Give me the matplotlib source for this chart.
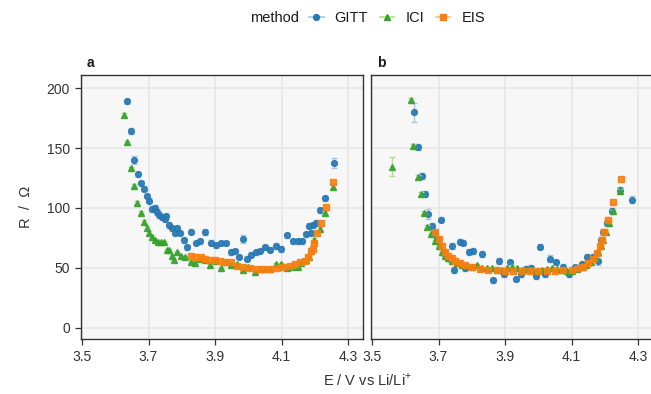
import matplotlib.pyplot as plt
from matplotlib.lines import Line2D

plt.rcParams['font.family'] = ['Liberation Sans', 'DejaVu Sans']
plt.rcParams['font.size'] = 10
plt.rcParams['mathtext.fontset'] = 'custom'
plt.rcParams['mathtext.rm'] = 'Liberation Sans'

# ---- panel a ----
a_gitt_v = [3.636, 3.646, 3.657, 3.667, 3.677, 3.686, 3.695, 3.702, 3.711, 3.720,
            3.726, 3.733, 3.740, 3.750, 3.753, 3.762, 3.770, 3.780, 3.786, 3.796,
            3.806, 3.816, 3.829, 3.842, 3.855, 3.870, 3.887, 3.902, 3.918, 3.932,
            3.947, 3.960, 3.972, 3.985, 3.997, 4.008, 4.022, 4.035, 4.049, 4.065,
            4.083, 4.098, 4.117, 4.134, 4.150, 4.163, 4.173, 4.182, 4.190, 4.195,
            4.204, 4.216, 4.232, 4.258]
a_gitt_r = [189, 164, 140, 128, 120.6, 116, 110, 106, 99, 100,
            96.4, 94, 92, 91, 93, 86, 83, 79, 83, 79,
            73, 67, 80, 70.6, 72, 80, 71, 68.6, 70.6, 70.6,
            63, 64, 59, 74, 57.5, 61, 63, 64, 67, 65,
            68, 66, 77, 72, 72, 72, 78, 85, 79, 86,
            87, 98, 108, 137.5]
a_gitt_e = [2, 2.5, 3.5, 2, 2, 2, 2, 2, 2.5, 2.5,
            2.5, 2.5, 2.5, 2.5, 2, 2.5, 2, 2, 2, 2,
            2, 2, 2, 2, 2, 2.5, 2, 2, 2, 2,
            2, 2, 2, 3.5, 2, 2, 2, 2, 2, 2,
            2.5, 2.5, 2, 2, 2, 2, 2, 2, 2, 2.5,
            2.5, 2, 2, 4.5]

a_ici_v = [3.626, 3.636, 3.646, 3.656, 3.666, 3.677, 3.686, 3.695, 3.702, 3.710,
           3.719, 3.728, 3.737, 3.746, 3.755, 3.762, 3.770, 3.778, 3.786, 3.798,
           3.810, 3.828, 3.840, 3.856, 3.870, 3.886, 3.902, 3.918, 3.932, 3.947,
           3.965, 3.985, 4.000, 4.020, 4.035, 4.050, 4.065, 4.083, 4.098, 4.116,
           4.132, 4.149, 4.160, 4.174, 4.183, 4.190, 4.198, 4.216, 4.232, 4.254]
a_ici_r = [177.8, 154.7, 133, 118.6, 104, 96, 88, 83.6, 79.4, 75.5,
           73, 71.7, 71.4, 71.4, 65, 65, 60, 56.7, 63, 60,
           59, 55, 54, 57.5, 56.7, 52, 56, 50, 55, 52.5,
           53, 48, 50.5, 46.7, 49, 49, 49, 53, 53, 49.7,
           51, 50.5, 54, 56.7, 59, 64, 73, 82.5, 95.6, 117.8]
a_ici_e = [1.5, 1.5, 1.5, 1.5, 1.5, 1.5, 1.5, 1.5, 1.5, 1.5,
           1, 1, 1, 1, 1, 1, 1, 1, 1, 1,
           1, 1, 1, 1, 1, 1, 1, 1, 1, 1,
           1, 1, 1, 1, 1, 1, 1, 1, 1, 1,
           1, 1, 1, 1, 1, 1, 1.5, 1.5, 1.5, 2]

a_eis_v = [3.828, 3.840, 3.858, 3.870, 3.886, 3.900, 3.915, 3.930, 3.947, 3.965,
           3.985, 4.005, 4.025, 4.045, 4.065, 4.085, 4.105, 4.125, 4.140, 4.155,
           4.170, 4.180, 4.188, 4.194, 4.199, 4.206, 4.218, 4.234, 4.256]
a_eis_r = [59.7, 59, 59, 57.5, 56.7, 56.7, 56, 55, 54.5, 51.7,
           50.5, 49.7, 49, 49, 49, 49.7, 50.5, 51.7, 53, 54.4,
           56, 59, 63.6, 66, 70.6, 79, 87, 100.5, 122]

# ---- panel b ----
b_gitt_v = [3.627, 3.637, 3.649, 3.659, 3.669, 3.680, 3.687, 3.696, 3.707, 3.717,
            3.725, 3.735, 3.740, 3.747, 3.758, 3.764, 3.773, 3.780, 3.792, 3.803,
            3.832, 3.865, 3.882, 3.898, 3.915, 3.932, 3.948, 3.963, 3.977, 3.992,
            4.005, 4.021, 4.035, 4.053, 4.074, 4.092, 4.110, 4.130, 4.147, 4.164,
            4.180, 4.188, 4.196, 4.208, 4.223, 4.247, 4.282]
b_gitt_r = [179.7, 150.6, 126.7, 112, 95, 85, 80, 74, 90, 62,
            59, 57, 68, 48, 54, 71.7, 71, 49.7, 63, 64.4,
            61.4, 39.4, 55.8, 44.7, 54.4, 40.6, 45, 49, 50, 42.8,
            67.5, 44.7, 57.5, 54.4, 51, 44.7, 50.5, 53, 59.4, 59.4,
            56, 73, 80, 87, 97, 115, 106.7]
b_gitt_e = [8, 2.5, 2.5, 2.5, 4, 2.5, 2.5, 2.5, 2, 2.5,
            2, 2, 2.5, 2.5, 2, 2, 2, 2, 2.5, 2.5,
            2.5, 2, 2.5, 2, 2.5, 2, 2.5, 2.5, 2, 2.5,
            2, 2.5, 3, 2.5, 2, 2.5, 2, 2, 2.5, 2.5,
            4, 2.5, 2.5, 2.5, 2.5, 2.5, 3]

b_ici_v = [3.560, 3.616, 3.624, 3.637, 3.647, 3.656, 3.666, 3.677, 3.690, 3.700,
           3.710, 3.720, 3.730, 3.740, 3.755, 3.770, 3.785, 3.800, 3.815, 3.830,
           3.845, 3.860, 3.875, 3.890, 3.905, 3.920, 3.935, 3.950, 3.965, 3.980,
           3.995, 4.010, 4.025, 4.040, 4.055, 4.070, 4.085, 4.100, 4.115, 4.130,
           4.145, 4.160, 4.170, 4.180, 4.188, 4.195, 4.205, 4.213, 4.224, 4.247]
b_ici_r = [134.4, 190, 151.7, 126, 111.7, 96, 84, 78, 72, 68,
           63, 60, 58, 56, 54, 52, 51.5, 51, 52, 50,
           49.5, 50, 48.5, 48, 50, 51, 50, 48, 49, 48.5,
           47, 48, 49, 50, 49, 48, 47.5, 47, 49, 51,
           52, 55, 58, 63, 68, 73, 80, 87, 97, 114]
b_ici_e = [8, 1.5, 1.5, 1.5, 1.5, 1.5, 1.5, 1, 1, 1,
           1, 1, 1, 1, 1, 1, 1, 1, 1, 1,
           1, 1, 1, 1, 1, 1, 1, 1, 1, 1,
           1, 1, 1, 1, 1, 1, 1, 1, 1, 1,
           1, 1, 1, 1, 1, 1, 1.5, 1.5, 1.5, 2]

b_eis_v = [3.690, 3.700, 3.710, 3.720, 3.730, 3.740, 3.750, 3.765, 3.780, 3.800,
           3.825, 3.850, 3.875, 3.900, 3.925, 3.950, 3.975, 4.000, 4.025, 4.050,
           4.075, 4.100, 4.120, 4.135, 4.150, 4.165, 4.178, 4.186, 4.193, 4.198,
           4.209, 4.226, 4.249]
b_eis_r = [80, 74, 68, 63, 60, 58, 56, 54, 52, 50.5,
           49, 48.5, 48, 47.5, 47, 47, 47, 47, 47, 47.5,
           48, 48, 49.5, 51, 54, 57, 62, 68, 73, 80,
           90, 104.7, 124]

methods = ['GITT', 'ICI', 'EIS']
colors = {'GITT': '#2678b2', 'ICI': '#36a12e', 'EIS': '#f97f0f'}
err_colors = {'GITT': '#a6c8e3', 'ICI': '#b2df8a', 'EIS': '#fdbf6f'}
markers = {'GITT': 'o', 'ICI': '^', 'EIS': 's'}
msize = {'GITT': 4.2, 'ICI': 4.6, 'EIS': 4.0}

x_ticks = [3.5, 3.7, 3.9, 4.1, 4.3]
y_ticks = [0, 50, 100, 150, 200]

fig = plt.figure(figsize=(6.51, 3.94), dpi=100)
W, H = 651, 394
ax_a = fig.add_axes([81 / W, 55 / H, 282 / W, 264 / H])
ax_b = fig.add_axes([371 / W, 55 / H, 282 / W, 264 / H])

panels = [
    (ax_a, 'a', {'GITT': (a_gitt_v, a_gitt_r, a_gitt_e),
                 'ICI': (a_ici_v, a_ici_r, a_ici_e),
                 'EIS': (a_eis_v, a_eis_r, None)}),
    (ax_b, 'b', {'GITT': (b_gitt_v, b_gitt_r, b_gitt_e),
                 'ICI': (b_ici_v, b_ici_r, b_ici_e),
                 'EIS': (b_eis_v, b_eis_r, None)}),
]

for ax, label, data in panels:
    ax.set_facecolor('#f7f7f7')
    for i, m in enumerate(methods):
        v, r, e = data[m]
        if e is not None:
            ax.errorbar(v, r, yerr=e, fmt='none', ecolor=err_colors[m],
                        elinewidth=1.0, capsize=2.2, capthick=1.0, zorder=2 + i)
        ax.plot(v, r, linestyle='none', marker=markers[m], ms=msize[m],
                color=colors[m], mec=colors[m], alpha=0.9, zorder=3 + i)
    ax.set_xlim(3.497, 4.345)
    ax.set_ylim(-9.5, 211)
    ax.set_xticks(x_ticks)
    ax.set_xticklabels([f'{t:.1f}' for t in x_ticks])
    ax.set_yticks(y_ticks)
    ax.grid(True, color='#e6e6e6', linewidth=1.1)
    ax.set_axisbelow(True)
    for s in ax.spines.values():
        s.set_color('#333333')
        s.set_linewidth(1.0)
    ax.tick_params(direction='out', length=4, width=0.9, color='#333333',
                   labelcolor='#333333', labelsize=10, pad=4)
    ax.text(0.02, 1.02, label, transform=ax.transAxes, fontweight='bold',
            fontsize=10, ha='left', va='bottom', color='#1a1a1a')

ax_b.tick_params(axis='y', left=False, labelleft=False)

ax_a.set_ylabel('R  /  Ω', color='#333333', fontsize=10.5, labelpad=10)
fig.text((81 + 371 + 282) / 2 / W, 5 / H, 'E / V vs Li/Li$^{+}$', ha='center',
         va='bottom', color='#333333', fontsize=10.5)

handles = [Line2D([], [], color=err_colors[m], lw=1.2, marker=markers[m],
                  ms=msize[m], mfc=colors[m], mec=colors[m]) for m in methods]
fig.text(250 / W, 1 - 18 / H, 'method', ha='left', va='center',
         color='#1a1a1a', fontsize=10.5)
fig.legend(handles, methods, loc='center', bbox_to_anchor=(397 / W, 1 - 18 / H),
           ncol=3, frameon=False, handlelength=1.0, handletextpad=0.75,
           columnspacing=0.8, fontsize=10.5, labelcolor='#1a1a1a',
           borderpad=0, borderaxespad=0)

fig.savefig('out.png', dpi=100)
